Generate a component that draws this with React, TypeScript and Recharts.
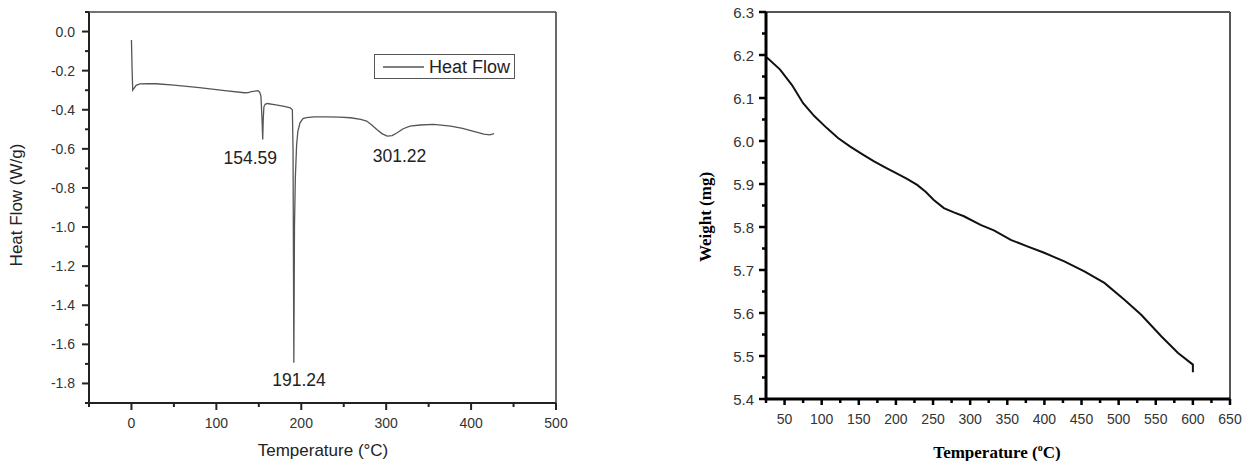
import React from 'react';
import { LineChart, Line, XAxis, YAxis, ReferenceLine, ReferenceDot, Legend } from 'recharts';

const SANS = '"Liberation Sans", Arial, sans-serif';
const SERIF = '"Liberation Serif", "Times New Roman", serif';

// DSC curve (left panel)
const dscTemp = [
  0, 0.8, 1.5, 3, 5.5, 10, 20, 29, 50, 80, 110, 133, 138, 140, 145, 149, 151, 152.5, 153.8, 154.59,
  155.2, 156, 157.5, 160, 170, 180, 187, 189.5, 190.3, 191.24, 192, 193, 194.5, 196, 198.5, 202, 206,
  215, 230, 245, 258, 270, 277, 283, 289, 295, 301.22, 307, 313, 320, 328, 340, 356, 376, 390, 403,
  415, 422, 427,
];
const dscFlow = [
  -0.043, -0.2, -0.3, -0.29, -0.275, -0.268, -0.266, -0.267, -0.274, -0.287, -0.302, -0.313, -0.312,
  -0.308, -0.305, -0.302, -0.31, -0.33, -0.45, -0.552, -0.45, -0.385, -0.372, -0.368, -0.375, -0.383,
  -0.39, -0.4, -0.6, -1.694, -1.0, -0.75, -0.58, -0.51, -0.467, -0.445, -0.44, -0.436, -0.436, -0.438,
  -0.441, -0.449, -0.458, -0.478, -0.501, -0.522, -0.535, -0.532, -0.518, -0.497, -0.484, -0.478,
  -0.475, -0.484, -0.495, -0.51, -0.525, -0.528, -0.522,
];
const dscXTicks = [-50, 0, 50, 100, 150, 200, 250, 300, 350, 400, 450, 500];
const dscXMajor = [0, 100, 200, 300, 400, 500];
const dscYTicks = [
  -1.9, -1.8, -1.7, -1.6, -1.5, -1.4, -1.3, -1.2, -1.1, -1.0, -0.9, -0.8, -0.7, -0.6, -0.5, -0.4,
  -0.3, -0.2, -0.1, 0, 0.1,
];
const dscYMajor = [-1.8, -1.6, -1.4, -1.2, -1.0, -0.8, -0.6, -0.4, -0.2, 0];
const peakNames = ['154.59', '191.24', '301.22'];
const peakLabelT = [140, 197.3, 315.7];
const peakLabelY = [-0.647, -1.782, -0.637];

// TGA curve (right panel)
const tgaTemp = [
  25, 27, 44, 60, 75, 90, 107, 122, 138.5, 155, 170, 186, 201.6, 215, 228.6, 240, 251, 264.6, 278,
  291.6, 314, 332, 354.7, 377, 399.7, 426.8, 453.8, 480.8, 507.8, 530.4, 557.4, 580, 600, 600,
];
const tgaWeight = [
  6.195, 6.193, 6.166, 6.13, 6.088, 6.058, 6.03, 6.007, 5.987, 5.969, 5.953, 5.938, 5.924, 5.912,
  5.898, 5.882, 5.863, 5.844, 5.834, 5.825, 5.805, 5.792, 5.77, 5.755, 5.74, 5.72, 5.697, 5.67, 5.631,
  5.596, 5.546, 5.507, 5.48, 5.462,
];
const tgaXTicks = [
  25, 50, 75, 100, 125, 150, 175, 200, 225, 250, 275, 300, 325, 350, 375, 400, 425, 450, 475, 500,
  525, 550, 575, 600, 625, 650,
];
const tgaXMajor = [50, 100, 150, 200, 250, 300, 350, 400, 450, 500, 550, 600, 650];
const tgaYTicks = [
  5.4, 5.45, 5.5, 5.55, 5.6, 5.65, 5.7, 5.75, 5.8, 5.85, 5.9, 5.95, 6.0, 6.05, 6.1, 6.15, 6.2, 6.25, 6.3,
];
const tgaYMajor = [5.4, 5.5, 5.6, 5.7, 5.8, 5.9, 6.0, 6.1, 6.2, 6.3];

const dscData = dscTemp.map((t, i) => ({ t, hf: dscFlow[i] }));
const tgaData = tgaTemp.map((t, i) => ({ t, w: tgaWeight[i] }));

type TickCfg = {
  side: 'left' | 'bottom';
  majors: number[];
  major: number;
  minor: number;
  gap: number;
  fontSize: number;
  digits: number;
  color: string;
  stroke: string;
  lw: number;
};

// draws the tick mark itself (major / minor length) plus the label for majors
function AxisTick(props: any) {
  const { x, y, payload, cfg } = props as { x: number; y: number; payload: any; cfg: TickCfg };
  const v = payload.value as number;
  const isMajor = cfg.majors.some((m) => Math.abs(m - v) < 1e-6);
  const len = isMajor ? cfg.major : cfg.minor;
  const left = cfg.side === 'left';
  return (
    <g>
      {left ? (
        <line x1={x - len} x2={x} y1={y} y2={y} stroke={cfg.stroke} strokeWidth={cfg.lw} />
      ) : (
        <line x1={x} x2={x} y1={y} y2={y + len} stroke={cfg.stroke} strokeWidth={cfg.lw} />
      )}
      {isMajor && (
        <text
          x={left ? x - cfg.major - cfg.gap : x}
          y={left ? y : y + cfg.gap}
          textAnchor={left ? 'end' : 'middle'}
          dominantBaseline="central"
          fontSize={cfg.fontSize}
          fontFamily={SANS}
          fill={cfg.color}
        >
          {v.toFixed(cfg.digits)}
        </text>
      )}
    </g>
  );
}

const dscXCfg: TickCfg = { side: 'bottom', majors: dscXMajor, major: 7, minor: 4, gap: 20, fontSize: 14, digits: 0, color: '#333', stroke: '#222', lw: 2 };
const dscYCfg: TickCfg = { side: 'left', majors: dscYMajor, major: 7, minor: 4, gap: 7, fontSize: 14, digits: 1, color: '#333', stroke: '#222', lw: 2 };
const tgaXCfg: TickCfg = { side: 'bottom', majors: tgaXMajor, major: 6, minor: 4, gap: 20, fontSize: 14, digits: 0, color: '#333', stroke: '#000', lw: 2.5 };
const tgaYCfg: TickCfg = { side: 'left', majors: tgaYMajor, major: 7, minor: 4, gap: 5, fontSize: 15, digits: 1, color: '#333', stroke: '#000', lw: 2.5 };

function HeatFlowLegend() {
  return (
    <div
      style={{
        boxSizing: 'border-box',
        width: 141,
        height: 25,
        border: '1px solid #555',
        display: 'flex',
        alignItems: 'center',
        background: '#fff',
        fontFamily: SANS,
      }}
    >
      <svg width={50} height={4} style={{ display: 'block' }}>
        <line x1={8} x2={49} y1={2} y2={2} stroke="#555" strokeWidth={1.3} />
      </svg>
      <span style={{ fontSize: 18, color: '#222', marginLeft: 4, lineHeight: 1 }}>Heat Flow</span>
    </div>
  );
}

function Title({ cx, cy, vertical, style, children }: any) {
  return (
    <div
      style={{
        position: 'absolute',
        left: cx,
        top: cy,
        transform: `translate(-50%, -50%)${vertical ? ' rotate(-90deg)' : ''}`,
        whiteSpace: 'nowrap',
        lineHeight: 1,
        ...style,
      }}
    >
      {children}
    </div>
  );
}

export default function App() {
  return (
    <div style={{ position: 'absolute', left: 0, top: 0, width: 1243, height: 461, background: '#fff', overflow: 'hidden' }}>
      <div style={{ position: 'absolute', left: 0, top: 0 }}>
        <LineChart width={600} height={461} data={dscData} margin={{ top: 12, right: 44, bottom: 18, left: 0 }}>
          <ReferenceLine y={0.1} stroke="#444" strokeWidth={1.6} />
          <ReferenceLine x={500} stroke="#444" strokeWidth={1.6} />
          <XAxis
            type="number"
            dataKey="t"
            domain={[-50, 500]}
            ticks={dscXTicks}
            interval={0}
            height={40}
            tickSize={0}
            tickMargin={0}
            tickLine={false}
            axisLine={{ stroke: '#222', strokeWidth: 2 }}
            tick={(p: any) => <AxisTick {...p} cfg={dscXCfg} />}
            allowDataOverflow
          />
          <YAxis
            type="number"
            domain={[-1.9, 0.1]}
            ticks={dscYTicks}
            interval={0}
            width={89}
            tickSize={0}
            tickMargin={0}
            tickLine={false}
            axisLine={{ stroke: '#222', strokeWidth: 2 }}
            tick={(p: any) => <AxisTick {...p} cfg={dscYCfg} />}
            allowDataOverflow
          />
          <Line type="linear" dataKey="hf" stroke="#555" strokeWidth={1.3} dot={false} isAnimationActive={false} />
          {peakNames.map((name, i) => (
            <ReferenceDot
              key={name}
              x={peakLabelT[i]}
              y={peakLabelY[i]}
              r={0}
              fill="none"
              stroke="none"
              label={{ value: name, position: 'center', fontSize: 17.5, fill: '#222', fontFamily: SANS }}
            />
          ))}
          <Legend
            layout="horizontal"
            verticalAlign="middle"
            align="center"
            wrapperStyle={{ left: 374, top: 54, width: 141 }}
            content={() => <HeatFlowLegend />}
          />
        </LineChart>
      </div>

      <div style={{ position: 'absolute', left: 620, top: 0 }}>
        <LineChart width={623} height={461} data={tgaData} margin={{ top: 12, right: 13, bottom: 22, left: 0 }}>
          <ReferenceLine y={6.3} stroke="#555" strokeWidth={2} />
          <ReferenceLine x={650} stroke="#555" strokeWidth={2} />
          <XAxis
            type="number"
            dataKey="t"
            domain={[25, 650]}
            ticks={tgaXTicks}
            interval={0}
            height={40}
            tickSize={0}
            tickMargin={0}
            tickLine={false}
            axisLine={{ stroke: '#000', strokeWidth: 3 }}
            tick={(p: any) => <AxisTick {...p} cfg={tgaXCfg} />}
            allowDataOverflow
          />
          <YAxis
            type="number"
            domain={[5.4, 6.3]}
            ticks={tgaYTicks}
            interval={0}
            width={146}
            tickSize={0}
            tickMargin={0}
            tickLine={false}
            axisLine={{ stroke: '#000', strokeWidth: 3 }}
            tick={(p: any) => <AxisTick {...p} cfg={tgaYCfg} />}
            allowDataOverflow
          />
          <Line type="linear" dataKey="w" stroke="#111" strokeWidth={2} dot={false} isAnimationActive={false} />
        </LineChart>
      </div>

      <Title cx={16} cy={205} vertical style={{ fontFamily: SANS, fontSize: 17, color: '#222' }}>
        Heat Flow (W/g)
      </Title>
      <Title cx={323} cy={450} style={{ fontFamily: SANS, fontSize: 17, color: '#222' }}>
        Temperature (°C)
      </Title>
      <Title cx={705} cy={217} vertical style={{ fontFamily: SERIF, fontSize: 17, fontWeight: 'bold', color: '#000' }}>
        Weight (mg)
      </Title>
      <Title cx={997} cy={452} style={{ fontFamily: SERIF, fontSize: 17, fontWeight: 'bold', color: '#000' }}>
        Temperature (<span style={{ fontSize: 10, position: 'relative', top: -7 }}>o</span>C)
      </Title>
    </div>
  );
}
